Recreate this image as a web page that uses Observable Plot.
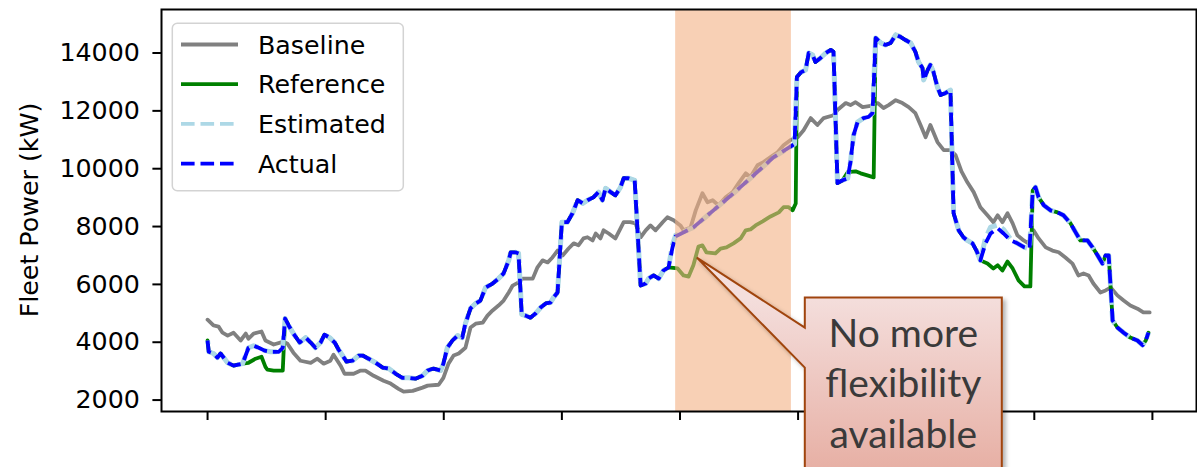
<!DOCTYPE html>
<html><head><meta charset="utf-8">
<script src="https://cdn.jsdelivr.net/npm/d3@7"></script>
<script src="https://cdn.jsdelivr.net/npm/@observablehq/plot@0.6"></script>
<style>html,body{margin:0;padding:0;background:#fff;overflow:hidden}</style>
</head><body><div id="chart"></div>
<script>
// ---------- data (hours of day, fleet power in kW) ----------
const seriesNames = ["Baseline", "Reference", "Estimated", "Actual"];

const baselineHours = [0.00,0.15,0.28,0.38,0.51,0.66,0.84,0.97,1.04,1.17,1.37,1.47,1.68,1.93,2.03,2.18,2.36,2.62,2.79,2.95,3.12,3.20,3.38,3.48,3.71,3.89,4.01,4.22,4.47,4.65,4.85,4.98,5.21,5.46,5.59,5.87,5.99,6.12,6.25,6.38,6.55,6.68,6.81,6.99,7.11,7.24,7.39,7.52,7.65,7.75,7.90,8.00,8.26,8.38,8.51,8.64,8.76,8.89,9.02,9.17,9.30,9.42,9.55,9.65,9.78,9.86,9.98,10.06,10.19,10.36,10.49,10.57,10.74,10.87,11.00,11.13,11.25,11.38,11.56,11.68,11.84,12.01,12.09,12.27,12.40,12.57,12.70,12.83,12.98,13.16,13.34,13.49,13.67,13.79,13.97,14.12,14.30,14.48,14.63,14.81,14.99,15.14,15.32,15.49,15.65,15.90,16.00,16.21,16.33,16.46,16.64,16.84,17.02,17.17,17.30,17.48,17.65,17.81,17.98,18.11,18.24,18.36,18.54,18.70,18.87,19.00,19.15,19.30,19.46,19.63,19.81,19.96,20.07,20.19,20.32,20.45,20.57,20.73,20.85,20.98,21.11,21.29,21.46,21.62,21.79,21.97,22.12,22.25,22.38,22.50,22.68,22.81,22.94,23.11,23.27,23.44,23.62,23.77,23.93];
const baselineKW = [4780,4580,4540,4330,4230,4330,4060,4300,4120,4300,4370,4060,3920,4020,3950,3640,3360,3290,3430,3260,3360,3570,3190,2910,2910,3020,3020,2840,2670,2570,2390,2290,2320,2430,2500,2530,2770,3260,3540,3610,3810,4510,4640,4680,4920,5100,5270,5440,5720,5960,6070,6200,6200,6590,6830,6760,6930,7170,7000,7240,7420,7350,7590,7630,7520,7760,7590,7870,7760,7590,7940,8150,8150,8110,7630,7870,8040,7870,8150,8320,8220,8040,7870,7970,8560,9150,8840,8910,8730,9010,9190,9500,9840,9710,10120,10230,10400,10570,10810,10990,11090,11330,11750,11510,11750,11850,12030,12270,12200,12300,12130,12170,12270,12100,12200,12370,12270,12130,11920,11510,11090,11510,10920,10640,10640,10470,9910,9530,9190,8670,8390,8150,8390,8150,8460,8110,7700,7520,7420,7870,7590,7280,7170,7110,6930,6720,6310,6380,6310,6030,5720,5790,5890,5620,5440,5270,5160,5030,5030];

const referenceHours = [0.00,0.03,0.15,0.25,0.33,0.51,0.66,0.89,1.04,1.22,1.37,1.47,1.52,1.68,1.91,1.97,
2.06,2.18,2.34,2.49,2.62,2.74,2.87,2.97,3.10,3.23,3.33,3.53,3.68,3.84,3.94,4.09,4.27,4.45,4.60,4.78,4.95,5.11,5.28,5.46,5.59,5.74,5.92,5.99,6.09,6.22,6.35,6.47,6.55,6.68,6.81,6.93,7.06,7.24,7.39,7.52,7.65,7.70,7.82,7.90,7.98,8.08,8.20,8.33,8.46,8.59,8.71,8.79,8.89,9.00,9.14,9.27,9.40,9.53,9.65,9.80,9.93,10.03,10.11,10.24,10.36,10.49,10.57,10.69,10.85,11.00,11.13,11.20,11.33,11.46,11.58,11.71,
11.94,12.09,12.22,12.34,12.47,12.57,12.67,12.90,13.03,13.18,13.36,13.54,13.67,13.79,13.92,14.10,14.30,14.51,14.63,14.76,14.86,14.94,
14.97,15.08,15.19,15.27,15.37,15.44,15.57,15.70,15.83,15.90,16.00,16.13,
16.26,16.46,16.59,16.76,16.92,
16.97,17.10,17.22,17.35,17.48,17.60,17.73,17.86,17.98,18.06,18.16,18.19,18.29,18.36,18.44,18.54,18.62,18.75,18.87,18.95,19.08,19.20,19.30,19.43,19.53,19.63,
19.81,19.96,20.07,20.19,20.32,20.45,20.60,20.75,20.90,
20.96,21.03,21.11,21.24,21.41,21.59,21.74,21.92,22.05,22.17,22.35,22.48,22.61,22.73,22.81,22.89,22.99,23.11,23.27,23.44,23.62,23.75,23.83,23.90];
const referenceKW = [4060,3670,3610,3470,3610,3290,3190,3260,3290,3430,3500,3150,3050,3020,3020,4820,
4580,4300,3990,4160,3990,3810,3990,4260,4160,3990,3740,3330,3360,3540,3540,3430,3290,3120,3090,2910,2770,2770,2740,2840,3020,3090,3020,3260,3810,4060,4230,4160,4650,5170,5340,5440,5890,6030,6200,6380,6830,7110,7110,7070,4960,4920,4850,4990,5200,5340,5370,5550,5720,8150,8150,8460,8910,8800,8910,9010,9190,8910,9320,9190,9080,9360,9670,9670,9600,5960,6030,6200,6310,6200,6480,6590,
6550,6310,6270,6660,7310,7350,7110,7070,7240,7280,7420,7590,7870,7900,8040,8180,8350,8490,8670,8670,8560,8800,
13170,13340,13410,14000,13930,13690,13830,14000,14110,14040,9500,9600,
9880,9910,9840,9770,9700,
14520,14350,14280,14350,14630,14560,14450,14350,14040,13690,13480,13070,13410,13590,13340,12820,12550,12620,12720,8460,7870,7630,7520,7420,7170,6830,
6720,6550,6660,6480,6790,6550,6140,5930,5930,
9250,9360,9010,8740,8560,8490,8390,8110,7800,7520,7520,7280,7000,6720,7000,7000,4750,4510,4330,4160,4060,3900,4060,4330];

// Estimated and Actual share the same time stamps
const actualHours = [0.00,0.03,0.15,0.25,0.33,0.51,0.66,0.89,1.04,1.17,1.30,1.45,1.60,1.81,1.91,1.97,2.06,2.18,2.34,2.49,2.62,2.74,2.87,2.97,3.10,3.23,3.33,3.53,3.68,3.84,3.94,4.09,4.27,4.45,4.60,4.78,4.95,5.11,5.28,5.46,5.59,5.74,5.92,5.99,6.09,6.22,6.35,6.47,6.55,6.68,6.81,6.93,7.06,7.24,7.39,7.52,7.65,7.70,7.82,7.90,7.98,8.08,8.20,8.33,8.46,8.59,8.71,8.79,8.89,9.00,9.14,9.27,9.40,9.53,9.65,9.80,9.93,10.03,10.11,10.24,10.36,10.49,10.57,10.69,10.85,11.00,11.13,11.20,11.33,11.46,11.58,11.71,11.81,11.89,12.34,12.85,13.36,13.87,14.38,14.91,14.97,15.08,15.19,15.27,15.37,15.44,15.57,15.70,15.83,15.90,16.00,16.13,16.26,16.33,16.41,16.51,16.66,16.79,16.89,16.97,17.10,17.22,17.35,17.48,17.60,17.73,17.86,17.98,18.06,18.16,18.19,18.29,18.36,18.44,18.54,18.62,18.75,18.87,18.95,19.08,19.20,19.30,19.43,19.53,19.63,19.76,19.89,20.07,20.22,20.40,20.57,20.75,20.88,20.96,21.03,21.11,21.24,21.41,21.59,21.74,21.92,22.05,22.17,22.35,22.48,22.61,22.73,22.81,22.89,22.99,23.11,23.27,23.44,23.62,23.75,23.83,23.90];
const actualKW = [4060,3670,3610,3470,3610,3290,3190,3260,3810,3880,3810,3710,3670,3670,3810,4820,4580,4300,3990,4160,3990,3810,3990,4260,4160,3990,3740,3330,3360,3540,3540,3430,3290,3120,3090,2910,2770,2770,2740,2840,3020,3090,3020,3260,3810,4060,4230,4160,4650,5170,5340,5440,5890,6030,6200,6380,6830,7110,7110,7070,4960,4920,4850,4990,5200,5340,5370,5550,5720,8150,8150,8460,8910,8800,8910,9010,9190,8910,9320,9190,9080,9360,9670,9670,9600,5960,6030,6200,6310,6200,6480,6590,7280,7660,7970,8560,9150,9770,10400,10850,13170,13340,13410,14000,13930,13690,13830,14000,14110,14040,9500,9600,9670,10230,11160,11610,11750,11790,11920,14520,14350,14280,14350,14630,14560,14450,14350,14040,13690,13480,13070,13410,13590,13340,12820,12550,12620,12720,8460,7870,7630,7520,7420,7170,6830,7420,7760,7940,7760,7520,7420,7280,7240,9250,9360,9010,8740,8560,8490,8390,8110,7800,7520,7520,7280,7000,6720,7000,7000,4750,4510,4330,4160,4060,3900,4060,4330];
const estimatedKW = [4060,3670,3610,3470,3610,3290,3190,3260,3810,3880,3810,3710,3670,3670,3810,4820,4580,4300,3990,4160,3990,3810,3990,4260,4160,3990,3740,3330,3360,3540,3540,3430,3290,3120,3090,2910,2770,2770,2740,2840,3020,3090,3020,3260,3810,4060,4230,4160,4650,5170,5340,5440,5890,6030,6200,6380,6830,7110,7110,7070,4960,4920,4850,4990,5200,5340,5370,5550,5720,8150,8150,8460,8910,8800,8910,9010,9190,8910,9320,9190,9080,9360,9670,9670,9600,5960,6030,6200,6310,6200,6480,6590,7380,7700,7970,8560,9150,9770,10400,10850,13170,13340,13410,14000,13930,13690,13830,14000,14110,14040,9500,9600,9670,10230,11160,11610,11750,11790,11920,14520,14350,14280,14350,14630,14560,14450,14350,14040,13690,13480,13070,13410,13590,13340,12820,12550,12620,12720,8460,7870,7630,7520,7420,7170,6830,7600,7980,8050,7900,7560,7420,7280,7240,9250,9360,9010,8740,8560,8490,8390,8110,7800,7520,7520,7280,7000,6720,7000,7000,4750,4510,4330,4160,4060,3900,4060,4330];

const flexWindowHours = [11.89, 14.83];          // period with no flexibility left
const yTickValues = [2000, 4000, 6000, 8000, 10000, 12000, 14000];
const xTickHours = [0, 3, 6, 9, 12, 15, 18, 21, 24];
const yAxisLabel = "Fleet Power (kW)";
const calloutLines = ["No more", "flexibility", "available"];
const calloutTip = {hour: 12.44, kW: 6910};

// ---------- checks & tables ----------
function rows(hours, kw, name) {
  if (hours.length !== kw.length) throw new Error(name + " length mismatch " + hours.length + " vs " + kw.length);
  return hours.map((h, i) => ({hour: h, kW: kw[i]}));
}
const baselineRows = rows(baselineHours, baselineKW, "baseline");
const referenceRows = rows(referenceHours, referenceKW, "reference");
const estimatedRows = rows(actualHours, estimatedKW, "estimated");
const actualRows = rows(actualHours, actualKW, "actual");

const style = {
  Baseline: {stroke: "#808080", strokeWidth: 3.8},
  Reference: {stroke: "#008000", strokeWidth: 3.8},
  Estimated: {stroke: "#add8e6", strokeWidth: 5, strokeDasharray: "13.6,5.9", strokeDashoffset: 9.75, strokeLinecap: "butt"},
  Actual: {stroke: "#0000ff", strokeWidth: 3.8, strokeDasharray: "13.6,5.9", strokeLinecap: "butt"}
};
const FONT = "'DejaVu Sans', sans-serif";
const FS = "25.3px";

const chart = Plot.plot({
  width: 1197, height: 467,
  marginLeft: 161, marginRight: 1, marginTop: 9, marginBottom: 56,
  style: {fontFamily: FONT, fontSize: FS, color: "#000", background: "#fff", overflow: "visible"},
  x: {domain: [-1.17, 25.12]},
  y: {domain: [1605, 15505]},
  marks: [
    Plot.line(baselineRows, {x: "hour", y: "kW", ...style.Baseline}),
    Plot.line(referenceRows, {x: "hour", y: "kW", ...style.Reference}),
    Plot.line(estimatedRows, {x: "hour", y: "kW", ...style.Estimated}),
    Plot.line(actualRows, {x: "hour", y: "kW", ...style.Actual}),
    Plot.rect([flexWindowHours], {x1: d => d[0], x2: d => d[1], fill: "#f4b183", fillOpacity: 0.6}),
    Plot.axisY({ticks: yTickValues, tickSize: 8.6, tickPadding: 13, tickFormat: d => String(d), label: null, stroke: "#000", strokeWidth: 2, fill: "#000"}),
    Plot.axisX({ticks: xTickHours, tickSize: 9, tickFormat: () => "", label: null, stroke: "#000", strokeWidth: 2}),
    Plot.frame({stroke: "#000", strokeWidth: 2})
  ]
});
document.getElementById("chart").appendChild(chart);

const svg = d3.select(chart);
const xs = chart.scale("x"), ys = chart.scale("y");

// y axis label
const yMid = (ys.range[0] + ys.range[1]) / 2;
svg.append("text")
  .attr("transform", `translate(38,${yMid}) rotate(-90)`)
  .attr("text-anchor", "middle")
  .attr("fill", "#000")
  .style("font-family", FONT).style("font-size", FS)
  .text(yAxisLabel);

// legend
const lg = svg.append("g");
lg.append("rect").attr("x", 172.3).attr("y", 23.3).attr("width", 231).attr("height", 167.4)
  .attr("rx", 5).attr("fill", "#fff").attr("fill-opacity", 0.8)
  .attr("stroke", "#d3d3d3").attr("stroke-width", 1.5);
seriesNames.forEach((name, i) => {
  const base = 53.5 + i * 39.7;
  const s = style[name];
  lg.append("line").attr("x1", 181).attr("x2", 238).attr("y1", base - 9).attr("y2", base - 9)
    .attr("stroke", s.stroke).attr("stroke-width", 3.8)
    .attr("stroke-dasharray", s.strokeDasharray || null)
    .attr("stroke-linecap", "butt");
  lg.append("text").attr("x", 258).attr("y", base).attr("fill", "#000")
    .attr("text-anchor", "start")
    .style("font-family", FONT).style("font-size", FS).text(name);
});

// callout
const tx = xs.apply(calloutTip.hour), ty = ys.apply(calloutTip.kW);
const bx = tx + 108, by = ty + 40, bw = 197, bh = 190;
const defs = svg.append("defs");
const grad = defs.append("linearGradient").attr("id", "calloutFill")
  .attr("gradientUnits", "userSpaceOnUse").attr("x1", 0).attr("x2", 0).attr("y1", by).attr("y2", by + 170);
grad.append("stop").attr("offset", 0).attr("stop-color", "#f4dedc");
grad.append("stop").attr("offset", 1).attr("stop-color", "#e7b0a5");
const flt = defs.append("filter").attr("id", "calloutShadow").attr("x", "-10%").attr("y", "-10%").attr("width", "130%").attr("height", "130%");
flt.append("feDropShadow").attr("dx", 3).attr("dy", 3).attr("stdDeviation", 2)
  .attr("flood-color", "#000").attr("flood-opacity", 0.3);
svg.append("path")
  .attr("d", `M${bx},${by}H${bx + bw}V${by + bh}H${bx}V${ty + 110}L${tx},${ty}L${bx},${ty + 70}Z`)
  .attr("fill", "url(#calloutFill)").attr("stroke", "#a0450f").attr("stroke-width", 2)
  .attr("stroke-linejoin", "miter").attr("filter", "url(#calloutShadow)");
calloutLines.forEach((t, i) => {
  svg.append("text").attr("x", bx + bw / 2).attr("y", by + 49 + i * 50.5)
    .attr("text-anchor", "middle").attr("fill", "#3a3a3a")
    .style("font-family", "Lato, 'Open Sans', sans-serif").style("font-size", "39px")
    .text(t);
});
</script>
</body></html>
